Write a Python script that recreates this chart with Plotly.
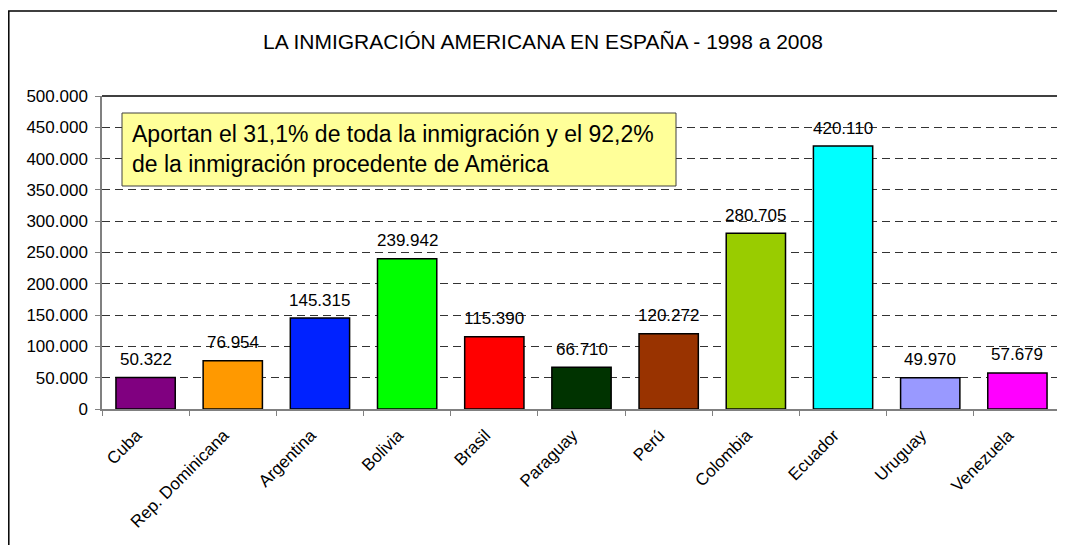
import plotly.graph_objects as go

countries = ["Cuba", "Rep. Dominicana", "Argentina", "Bolivia", "Brasil", "Paraguay",
             "Perú", "Colombia", "Ecuador", "Uruguay", "Venezuela"]
values = [50322, 76954, 145315, 239942, 115390, 66710, 120272, 280705, 420110, 49970, 57679]
colors = ["#800080", "#FF9900", "#0022FF", "#00FF00", "#FF0000", "#003300",
          "#993300", "#99CC00", "#00FFFF", "#9999FF", "#FF00FF"]
y_ticks = [0, 50000, 100000, 150000, 200000, 250000, 300000, 350000, 400000, 450000, 500000]

title_text = "LA INMIGRACIÓN AMERICANA EN ESPAÑA - 1998 a 2008"
note_text = "Aportan el 31,1% de toda la inmigración y el 92,2%<br>de la inmigración procedente de Amërica"

OFF = 8  # browser body margin
W, H = 1065, 545
L, R, T, B = 102 - OFF, 1061 - OFF, 96 - OFF, 409 - OFF  # plot area pixels in figure
pw, ph = R - L, B - T


def px(x):
    return (x - OFF - L) / pw


def py(y):
    return (B - (y - OFF)) / ph


FONT = "Liberation Sans, Arial, sans-serif"

fig = go.Figure()
fig.add_trace(go.Bar(
    x=countries, y=values,
    marker=dict(color=colors, line=dict(color="#000000", width=1.5)),
    hoverinfo="x+y",
))

annotations = []
for c, v in zip(countries, values):
    annotations.append(dict(
        x=c, y=v, xref="x", yref="y",
        text=f"{v:,}".replace(",", "."),
        showarrow=False, yanchor="middle", yshift=18,
        font=dict(family=FONT, size=17, color="#000000"),
    ))

annotations.append(dict(
    x=px(130), y=py(149), xref="paper", yref="paper",
    xanchor="left", yanchor="middle", align="left",
    text=note_text, showarrow=False,
    font=dict(family=FONT, size=23, color="#000000"),
))

shapes = [
    # outer chart border
    dict(type="rect", xref="paper", yref="paper",
         x0=px(8.8), x1=px(1080), y0=py(570), y1=py(11),
         line=dict(color="#000000", width=1.5), layer="below"),
    # top border of plot area
    dict(type="line", xref="paper", yref="paper", x0=0, x1=1, y0=1, y1=1,
         line=dict(color="#000000", width=1.5)),
    # right border of plot area
    dict(type="line", xref="paper", yref="paper", x0=1, x1=1, y0=0, y1=1,
         line=dict(color="#808080", width=1.5)),
    # note box
    dict(type="rect", xref="paper", yref="paper",
         x0=px(122), x1=px(676), y0=py(186), y1=py(113),
         fillcolor="#FFFF99", line=dict(color="#404040", width=1), layer="above"),
]

fig.update_layout(
    width=W, height=H,
    margin=dict(l=L, r=W - R, t=T, b=H - B),
    paper_bgcolor="#FFFFFF", plot_bgcolor="#FFFFFF",
    separators=",.",
    bargap=0.32,
    showlegend=False,
    font=dict(family=FONT, color="#000000"),
    title=dict(text=title_text, x=(543 - OFF) / W, xanchor="center", xref="container",
               y=1 - (42 - OFF) / H, yanchor="middle", yref="container",
               font=dict(family=FONT, size=21, color="#000000")),
    annotations=annotations,
    shapes=shapes,
    xaxis=dict(
        type="category", tickangle=-45, tickson="boundaries",
        ticks="outside", ticklen=5, tickcolor="#808080", tickwidth=1,
        showline=True, linecolor="#808080", linewidth=1.5,
        showgrid=False, ticklabelshift=-9, ticklabelstandoff=8,
        tickfont=dict(family=FONT, size=17, color="#000000"),
    ),
    yaxis=dict(
        range=[0, 500000], tickvals=y_ticks, tickformat=",d",
        ticks="outside", ticklen=5, tickcolor="#808080", tickwidth=1,
        showline=True, linecolor="#808080", linewidth=1.5,
        showgrid=True, gridcolor="#333333", gridwidth=1, griddash="8px,5px",
        zeroline=False, ticklabelstandoff=4,
        tickfont=dict(family=FONT, size=17, color="#000000"),
    ),
)

fig.write_html("out.html")
